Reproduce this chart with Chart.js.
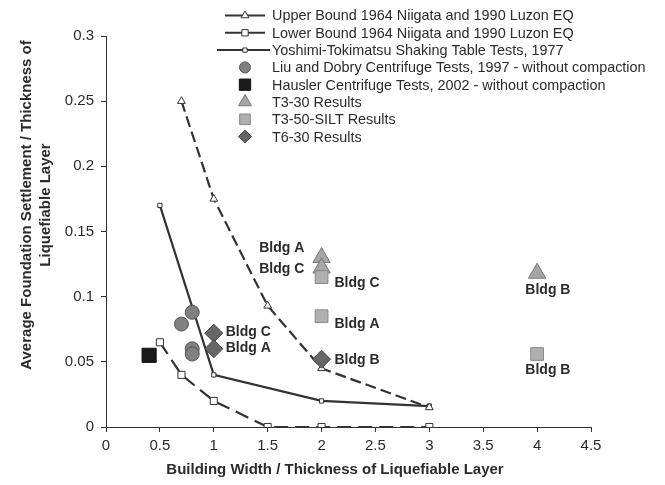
<!DOCTYPE html>
<html>
<head>
<meta charset="utf-8">
<script src="https://cdn.jsdelivr.net/npm/chart.js@4/dist/chart.umd.min.js"></script>
<style>
  body { margin: 0; background: #fff; }
  #wrap { width: 665px; height: 485px; }
</style>
</head>
<body>
<div id="wrap"><canvas id="chart" width="665" height="485"></canvas></div>
<script>
// bounds / reference curves
var upperX = [0.7, 1, 1.5, 2, 3];
var upperY = [0.25, 0.175, 0.093, 0.045, 0.015];
var lowerX = [0.5, 0.7, 1, 1.5, 2, 3];
var lowerY = [0.065, 0.04, 0.02, 0, 0, 0];
var yoshimiX = [0.5, 1, 2, 3];
var yoshimiY = [0.17, 0.04, 0.02, 0.016];

// test results
var liuX = [0.7, 0.8, 0.8, 0.8];
var liuY = [0.079, 0.088, 0.06, 0.056];
var hauslerX = [0.4];
var hauslerY = [0.055];
var t330X = [2, 2, 4];
var t330Y = [0.13, 0.122, 0.118];
var t350X = [2, 2, 4];
var t350Y = [0.115, 0.085, 0.056];
var t630X = [1, 1, 2];
var t630Y = [0.072, 0.06, 0.052];

var seriesNames = [
  'Upper Bound 1964 Niigata and 1990 Luzon EQ',
  'Lower Bound 1964 Niigata and 1990 Luzon EQ',
  'Yoshimi-Tokimatsu Shaking Table Tests, 1977',
  'Liu and Dobry Centrifuge Tests, 1997 - without compaction',
  'Hausler Centrifuge Tests, 2002 - without compaction',
  'T3-30 Results',
  'T3-50-SILT Results',
  'T6-30 Results'
];

// building labels, in data units
var bldgText = ['Bldg A', 'Bldg C', 'Bldg C', 'Bldg A', 'Bldg B', 'Bldg C', 'Bldg A', 'Bldg B', 'Bldg B'];
var bldgX = [1.84, 1.84, 2.12, 2.12, 2.12, 1.11, 1.11, 4.1, 4.1];
var bldgY = [0.137, 0.121, 0.11, 0.079, 0.051, 0.073, 0.0605, 0.105, 0.044];
var bldgAlign = ['right', 'right', 'left', 'left', 'left', 'left', 'left', 'center', 'center'];

var xTicks = [0, 0.5, 1, 1.5, 2, 2.5, 3, 3.5, 4, 4.5];
var yTicks = [0, 0.05, 0.1, 0.15, 0.2, 0.25, 0.3];

function pts(xs, ys) {
  return xs.map(function(x, i) { return { x: x, y: ys[i] }; });
}

var FONT = '"Liberation Sans", Arial, sans-serif';
var INK = '#2b2b2b';

function marker(ctx, style, x, y, r, fill, stroke) {
  ctx.save();
  ctx.beginPath();
  if (style === 'circle') {
    ctx.arc(x, y, r, 0, Math.PI * 2);
  } else if (style === 'rect') {
    var s = r * Math.SQRT1_2;
    ctx.rect(x - s, y - s, 2 * s, 2 * s);
  } else if (style === 'triangle') {
    ctx.moveTo(x, y - r);
    ctx.lineTo(x + r * 0.866, y + r * 0.5);
    ctx.lineTo(x - r * 0.866, y + r * 0.5);
    ctx.closePath();
  } else if (style === 'rectRot') {
    ctx.moveTo(x, y - r);
    ctx.lineTo(x + r, y);
    ctx.lineTo(x, y + r);
    ctx.lineTo(x - r, y);
    ctx.closePath();
  }
  ctx.fillStyle = fill;
  ctx.fill();
  ctx.lineWidth = 1;
  ctx.strokeStyle = stroke;
  ctx.stroke();
  ctx.restore();
}

var extras = {
  id: 'extras',
  afterDraw: function(chart) {
    var ctx = chart.ctx;
    var xs = chart.scales.x, ys = chart.scales.y;

    // building labels
    ctx.save();
    ctx.font = 'bold 14px ' + FONT;
    ctx.fillStyle = INK;
    ctx.textBaseline = 'middle';
    bldgText.forEach(function(t, i) {
      ctx.textAlign = bldgAlign[i];
      ctx.fillText(t, xs.getPixelForValue(bldgX[i]), ys.getPixelForValue(bldgY[i]));
    });
    ctx.restore();

    // axis titles
    ctx.save();
    ctx.font = 'bold 15px ' + FONT;
    ctx.fillStyle = INK;
    ctx.textAlign = 'center';
    ctx.textBaseline = 'middle';
    ctx.fillText('Building Width / Thickness of Liquefiable Layer', 335, 470);
    ctx.translate(27, 205);
    ctx.rotate(-Math.PI / 2);
    ctx.fillText('Average Foundation Settlement / Thickness of', 0, 0);
    ctx.fillText('Liquefiable Layer', 0, 19);
    ctx.restore();

    // legend
    ctx.save();
    ctx.font = '14.4px ' + FONT;
    ctx.textBaseline = 'middle';
    ctx.textAlign = 'left';
    var ds = chart.data.datasets;
    seriesNames.forEach(function(name, i) {
      var y = 15.5 + i * 17.3;
      var d = ds[i];
      if (i < 3) {
        ctx.beginPath();
        ctx.strokeStyle = '#333';
        ctx.lineWidth = 2;
        ctx.moveTo(i === 2 ? 217 : 225, y);
        ctx.lineTo(i === 2 ? 270 : 265, y);
        ctx.stroke();
      }
      var lr = [4.5, 4.5, 3, 5.5, 8, 7.5, 7.5, 6.5][i];
      marker(ctx, d.pointStyle, 245, y, lr, d.pointBackgroundColor, d.pointBorderColor);
      ctx.fillStyle = INK;
      ctx.fillText(name, 272, y + 1);
    });
    ctx.restore();
  }
};

var lineBase = {
  showLine: true,
  borderColor: '#333',
  borderWidth: 2.2,
  pointBackgroundColor: '#fff',
  pointBorderColor: '#333',
  pointBorderWidth: 1,
  order: 10
};

new Chart(document.getElementById('chart'), {
  type: 'scatter',
  data: {
    datasets: [
      Object.assign({}, lineBase, {
        label: seriesNames[0], data: pts(upperX, upperY),
        borderDash: [11, 5], pointStyle: 'triangle', pointRadius: 4.5
      }),
      Object.assign({}, lineBase, {
        label: seriesNames[1], data: pts(lowerX, lowerY),
        borderDash: [14, 7], pointStyle: 'rect', pointRadius: 5
      }),
      Object.assign({}, lineBase, {
        label: seriesNames[2], data: pts(yoshimiX, yoshimiY),
        pointStyle: 'rect', pointRadius: 3
      }),
      {
        label: seriesNames[3], data: pts(liuX, liuY),
        pointStyle: 'circle', pointRadius: 7,
        pointBackgroundColor: '#808080', pointBorderColor: '#555', pointBorderWidth: 1, order: 5
      },
      {
        label: seriesNames[4], data: pts(hauslerX, hauslerY),
        pointStyle: 'rect', pointRadius: 10,
        pointBackgroundColor: '#1a1a1a', pointBorderColor: '#111', pointBorderWidth: 1, order: 5
      },
      {
        label: seriesNames[5], data: pts(t330X, t330Y),
        pointStyle: 'triangle', pointRadius: 10,
        pointBackgroundColor: '#a6a6a6', pointBorderColor: '#777', pointBorderWidth: 1, order: 4
      },
      {
        label: seriesNames[6], data: pts(t350X, t350Y),
        pointStyle: 'rect', pointRadius: 9,
        pointBackgroundColor: '#b0b0b0', pointBorderColor: '#888', pointBorderWidth: 1, order: 3
      },
      {
        label: seriesNames[7], data: pts(t630X, t630Y),
        pointStyle: 'rectRot', pointRadius: 9,
        pointBackgroundColor: '#666', pointBorderColor: '#444', pointBorderWidth: 1, order: 2
      }
    ]
  },
  options: {
    responsive: false,
    animation: false,
    layout: { padding: { left: 0, top: 36, right: 74, bottom: 0 } },
    plugins: {
      legend: { display: false },
      tooltip: { enabled: false }
    },
    scales: {
      x: {
        type: 'linear', min: 0, max: 4.5,
        afterFit: function(s) { s.height = 58; },
        afterBuildTicks: function(s) { s.ticks = xTicks.map(function(v) { return { value: v }; }); },
        ticks: {
          font: { family: FONT, size: 15 }, color: INK, padding: 5,
          callback: function(v) { return String(v); }
        },
        grid: { drawOnChartArea: false, drawTicks: true, tickLength: 5, color: '#333' },
        border: { display: true, color: '#333', width: 1 }
      },
      y: {
        type: 'linear', min: 0, max: 0.3,
        afterFit: function(s) { s.width = 106; },
        afterBuildTicks: function(s) { s.ticks = yTicks.map(function(v) { return { value: v }; }); },
        ticks: {
          font: { family: FONT, size: 15 }, color: INK, padding: 7,
          callback: function(v) { return String(+v.toFixed(2)); }
        },
        grid: { drawOnChartArea: false, drawTicks: true, tickLength: 5, color: '#333' },
        border: { display: true, color: '#333', width: 1 }
      }
    }
  },
  plugins: [extras]
});
</script>
</body>
</html>
